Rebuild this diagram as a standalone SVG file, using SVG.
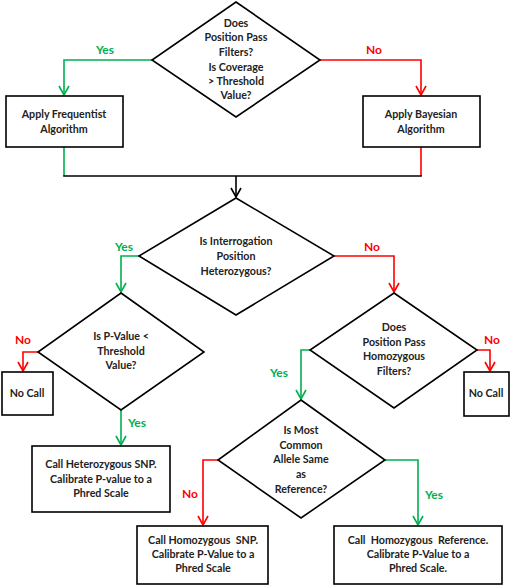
<svg xmlns="http://www.w3.org/2000/svg" width="510" height="587" viewBox="0 0 510 587">
<defs>
<style>
.shape{fill:#fff;stroke:#000;stroke-width:1.6}
.t{font-family:Lato,"Liberation Sans",sans-serif;font-size:10.7px;font-weight:bold;fill:#222;text-anchor:middle}
.g{fill:none;stroke:#00b050;stroke-width:1.6}
.r{fill:none;stroke:#ff0000;stroke-width:1.6}
.k{fill:none;stroke:#000;stroke-width:1.6}
.lg{font-family:Lato,"Liberation Sans",sans-serif;font-size:12px;font-weight:bold;fill:#00b050;text-anchor:middle}
.lr{font-family:Lato,"Liberation Sans",sans-serif;font-size:12px;font-weight:bold;fill:#ff0000;text-anchor:middle}
</style>
<marker id="ag" viewBox="0 0 12 12" refX="11" refY="6" markerWidth="12" markerHeight="12" markerUnits="userSpaceOnUse" orient="auto"><polyline points="2,1 11,6 2,11" fill="none" stroke="#00b050" stroke-width="1.6"/></marker>
<marker id="ar" viewBox="0 0 12 12" refX="11" refY="6" markerWidth="12" markerHeight="12" markerUnits="userSpaceOnUse" orient="auto"><polyline points="2,1 11,6 2,11" fill="none" stroke="#ff0000" stroke-width="1.6"/></marker>
<marker id="ak" viewBox="0 0 12 12" refX="11" refY="6" markerWidth="12" markerHeight="12" markerUnits="userSpaceOnUse" orient="auto"><polyline points="2,1 11,6 2,11" fill="none" stroke="#000" stroke-width="1.6"/></marker>
</defs>
<rect width="510" height="587" fill="#fff"/>
<g id="connectors">
<polyline class="g" points="152,60 64,60 64,95" marker-end="url(#ag)"/>
<polyline class="r" points="320,60 421,60 421,95" marker-end="url(#ar)"/>
<line class="g" x1="64" y1="147" x2="64" y2="176"/>
<line class="r" x1="421" y1="147" x2="421" y2="176"/>
<line class="k" x1="63.2" y1="176" x2="421.8" y2="176"/>
<line class="k" x1="236" y1="176" x2="236" y2="197" marker-end="url(#ak)"/>
<polyline class="g" points="139,256 121,256 121,292" marker-end="url(#ag)"/>
<polyline class="r" points="334,256 394,256 394,292" marker-end="url(#ar)"/>
<polyline class="r" points="38,352 23,352 23,371" marker-end="url(#ar)"/>
<line class="g" x1="121" y1="410" x2="121" y2="445" marker-end="url(#ag)"/>
<polyline class="r" points="477,350 490,350 490,371" marker-end="url(#ar)"/>
<polyline class="g" points="310,350 301,350 301,399" marker-end="url(#ag)"/>
<polyline class="r" points="218,460 203,460 203,525" marker-end="url(#ar)"/>
<polyline class="g" points="385,460 418,460 418,525" marker-end="url(#ag)"/>
<text class="lg" x="105" y="54">Yes</text>
<text class="lr" x="374" y="54">No</text>
<text class="lg" x="124" y="251">Yes</text>
<text class="lr" x="372" y="251">No</text>
<text class="lr" x="23" y="344">No</text>
<text class="lg" x="137" y="427">Yes</text>
<text class="lr" x="492" y="344">No</text>
<text class="lg" x="279" y="377">Yes</text>
<text class="lr" x="190" y="498">No</text>
<text class="lg" x="434" y="499">Yes</text>
</g>
<g id="d1">
<polygon class="shape" points="236,2 320,60 236,117 152,60"/>
<text class="t" x="236" y="27">Does</text>
<text class="t" x="236" y="41">Position Pass</text>
<text class="t" x="236" y="56">Filters?</text>
<text class="t" x="236" y="71">Is Coverage</text>
<text class="t" x="236" y="85">&gt; Threshold</text>
<text class="t" x="236" y="99">Value?</text>
</g>
<g id="freq">
<rect class="shape" x="6" y="96" width="117" height="51"/>
<text class="t" x="64" y="118">Apply Frequentist</text>
<text class="t" x="64" y="133">Algorithm</text>
</g>
<g id="bayes">
<rect class="shape" x="363" y="96" width="117" height="51"/>
<text class="t" x="421" y="118">Apply Bayesian</text>
<text class="t" x="421" y="133">Algorithm</text>
</g>
<g id="d2">
<polygon class="shape" points="236,198 334,256 236,315 139,256"/>
<text class="t" x="236" y="245">Is Interrogation</text>
<text class="t" x="236" y="260">Position</text>
<text class="t" x="236" y="275">Heterozygous?</text>
</g>
<g id="d3">
<polygon class="shape" points="121,293 204,352 121,410 38,352"/>
<text class="t" x="121" y="340">Is P-Value &lt;</text>
<text class="t" x="121" y="355">Threshold</text>
<text class="t" x="121" y="369">Value?</text>
</g>
<g id="nocall1">
<rect class="shape" x="2" y="372" width="51" height="43"/>
<text class="t" x="27" y="397">No Call</text>
</g>
<g id="het">
<rect class="shape" x="32" y="446" width="138" height="66"/>
<text class="t" x="101" y="468">Call Heterozygous SNP.</text>
<text class="t" x="101" y="483">Calibrate P-value to a</text>
<text class="t" x="101" y="497">Phred Scale</text>
</g>
<g id="d4">
<polygon class="shape" points="394,293 477,350 394,408 310,350"/>
<text class="t" x="394" y="331">Does</text>
<text class="t" x="394" y="346">Position Pass</text>
<text class="t" x="394" y="360">Homozygous</text>
<text class="t" x="394" y="375">Filters?</text>
</g>
<g id="nocall2">
<rect class="shape" x="464" y="372" width="45" height="44"/>
<text class="t" x="486" y="397">No Call</text>
</g>
<g id="d5">
<polygon class="shape" points="301,400 385,460 301,518 218,460"/>
<text class="t" x="301" y="434">Is Most</text>
<text class="t" x="301" y="449">Common</text>
<text class="t" x="301" y="463">Allele Same</text>
<text class="t" x="301" y="478">as</text>
<text class="t" x="301" y="493">Reference?</text>
</g>
<g id="homsnp">
<rect class="shape" x="137" y="526" width="131" height="58"/>
<text class="t" x="203" y="544" xml:space="preserve">Call Homozygous  SNP.</text>
<text class="t" x="203" y="558">Calibrate P-Value to a</text>
<text class="t" x="203" y="572">Phred Scale</text>
</g>
<g id="homref">
<rect class="shape" x="334" y="526" width="168" height="58"/>
<text class="t" x="418" y="544" xml:space="preserve">Call  Homozygous  Reference.</text>
<text class="t" x="418" y="558">Calibrate P-Value to a</text>
<text class="t" x="418" y="572">Phred Scale.</text>
</g>
</svg>
